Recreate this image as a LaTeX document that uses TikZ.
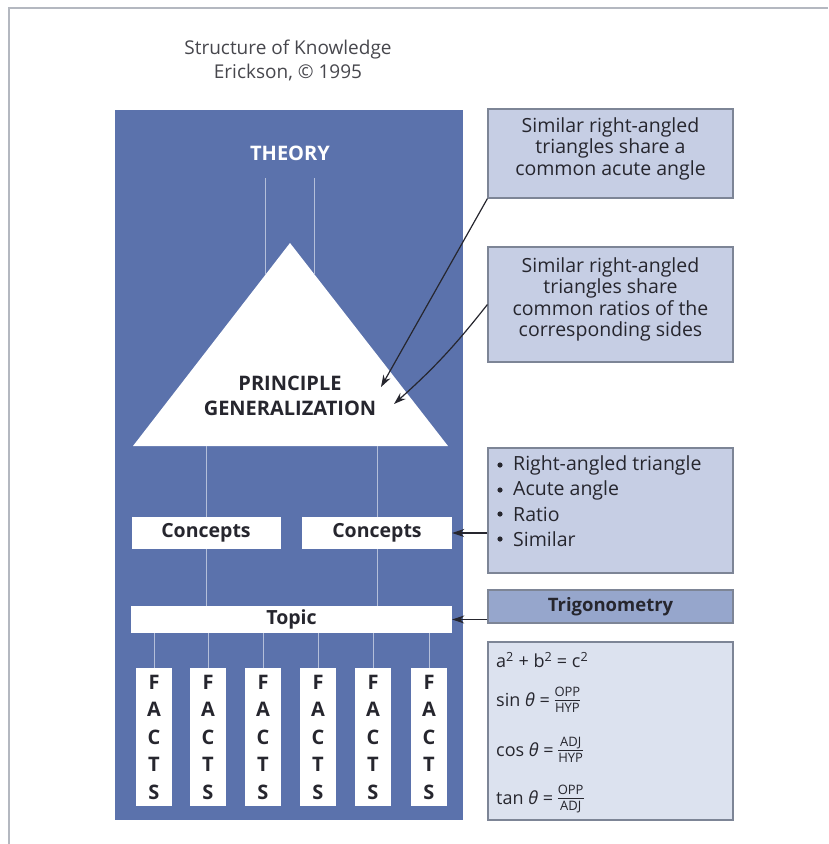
\documentclass[tikz,border=0pt]{standalone}
\usepackage{fontspec}
\setmainfont{Open Sans}
\usetikzlibrary{arrows.meta,calc}
\definecolor{panel}{HTML}{5B72AC}
\definecolor{note}{HTML}{C6CEE4}
\definecolor{notedark}{HTML}{96A6CC}
\definecolor{notelight}{HTML}{DCE2EF}
\definecolor{noteedge}{HTML}{7D8596}
\definecolor{thinline}{HTML}{B4BFDA}
\definecolor{framegray}{HTML}{B4B8C0}
\definecolor{ink}{HTML}{26262E}
% small stacked ratio used in the formula panel
\newcommand{\ratio}[2]{$\vcenter{\hbox{\fontsize{13}{14}\selectfont\begin{tabular}{@{}c@{}}#1\\[-1pt]\hline\rule{0pt}{12.5pt}#2\end{tabular}}}$}
\begin{document}
\begin{tikzpicture}[x=1pt,y=-1pt,
  whitebox/.style={draw=none,fill=white,inner sep=0pt,font=\fontsize{19.5}{22}\selectfont\bfseries,text=ink},
  factbox/.style={whitebox,minimum width=36pt,minimum height=138pt,align=center,font=\fontsize{20}{27.5}\selectfont\bfseries},
  notebox/.style={draw=noteedge,line width=1.2pt,fill=note,minimum width=245pt,inner sep=0pt,align=center,text=ink,font=\fontsize{19.5}{21.5}\selectfont},
  notetext/.style={align=center,inner sep=0pt,text=ink,font=\fontsize{19.5}{21.5}\selectfont},
  itemtext/.style={anchor=west,inner sep=0pt,text=ink,font=\fontsize{19.5}{22}\selectfont},
  link/.style={draw=thinline,line width=1pt},
  pointer/.style={draw=ink,line width=1.2pt,-{Stealth[length=12pt,width=8pt]}}
]
\useasboundingbox (0,0) rectangle (828,844);
% page frame
\draw[framegray,line width=1.5pt] (9,844) -- (9,8) -- (828,8);

% heading
\node[align=center,text=ink!85,font=\fontsize{19}{24}\selectfont] (title) at (288,60) {Structure of Knowledge\\Erickson, © 1995};

% blue panel
\fill[panel] (115,110) rectangle (463,820);
\node[text=white,font=\fontsize{20}{22}\selectfont\bfseries] (theory) at (290,153) {THEORY};

% triangle
\coordinate (apex) at (290,243);
\coordinate (bl) at (133,446);
\coordinate (br) at (448,446);
\fill[white] (apex) -- (bl) -- (br) -- cycle;
\coordinate (t1) at (265,178);
\coordinate (t2) at (314,178);
\coordinate (e1) at (265,275);
\coordinate (e2) at (314,275);
\draw[link] (t1) -- (e1);
\draw[link] (t2) -- (e2);
\node[align=center,text=ink,font=\fontsize{20}{25}\selectfont\bfseries] (pg) at (290,396) {PRINCIPLE\\GENERALIZATION};
\coordinate (tip1) at (381,387);
\coordinate (tip2) at (394,404);

% concepts, topic, facts
\node[whitebox,minimum width=149pt,minimum height=32pt] (cL) at (206,533) {Concepts};
\node[whitebox,minimum width=150pt,minimum height=32pt] (cR) at (377,533) {Concepts};
\node[whitebox,minimum width=321pt,minimum height=27pt] (topic) at (291.5,619.5) {Topic};
\draw[link] (cL.north |- bl) -- (cL.north);
\draw[link] (cR.north |- br) -- (cR.north);
\draw[link] (cL.south) -- (cL.south |- topic.north);
\draw[link] (cR.south) -- (cR.south |- topic.north);
\foreach \i/\x in {1/154,2/208,3/263,4/318,5/373,6/429}{
  \node[factbox] (f\i) at (\x,737) {F\\A\\C\\T\\S};
  \draw[link] (f\i.north |- topic.south) -- (f\i.north);
}

% notes on the right
\node[notebox,minimum height=89pt] (n1) at (610.5,153.5) {};
\node[notetext] (n1t) at (610.5,148.5) {Similar right-angled\\triangles share a\\common acute angle};
\node[notebox,minimum height=115pt] (n2) at (610.5,304.5) {};
\node[notetext] (n2t) at (610.5,299.5) {Similar right-angled\\triangles share\\common ratios of the\\corresponding sides};
\node[notebox,minimum height=125pt] (n3) at (610.5,510.5) {};
\foreach \j/\y/\t in {1/465/Right-angled triangle,2/490/Acute angle,3/514/Ratio,4/539/Similar}{
  \fill[ink] (500,\y) circle (2.6pt);
  \node[itemtext] (b\j) at (513,\y) {\t};
}
\node[notebox,fill=notedark,minimum height=33pt,font=\fontsize{18.5}{20}\selectfont\bfseries] (n4) at (610.5,606.5) {Trigonometry};
\node[notebox,fill=notelight,minimum height=178pt] (n5) at (610.5,731) {};
\begin{scope}[every node/.style={anchor=west,inner sep=0pt,text=ink,font=\fontsize{18}{20}\selectfont}]
\node (fa) at (496,660) {a\textsuperscript{2} + b\textsuperscript{2} = c\textsuperscript{2}};
\node (fs) at (496,702) {sin \textit{θ} = \ratio{OPP}{HYP}};
\node (fc) at (496,752) {cos \textit{θ} = \ratio{ADJ}{HYP}};
\node (ft) at (496,800) {tan \textit{θ} = \ratio{OPP}{ADJ}};
\end{scope}

% pointers
\draw[pointer] (n1.south west) -- (tip1);
\draw[pointer] (n2.west) to[bend left=5] (tip2);
\draw[pointer] (n3.west |- cR.east) -- (cR.east);
\draw[pointer] (n4.west |- topic.east) -- (topic.east);
\end{tikzpicture}
\end{document}
